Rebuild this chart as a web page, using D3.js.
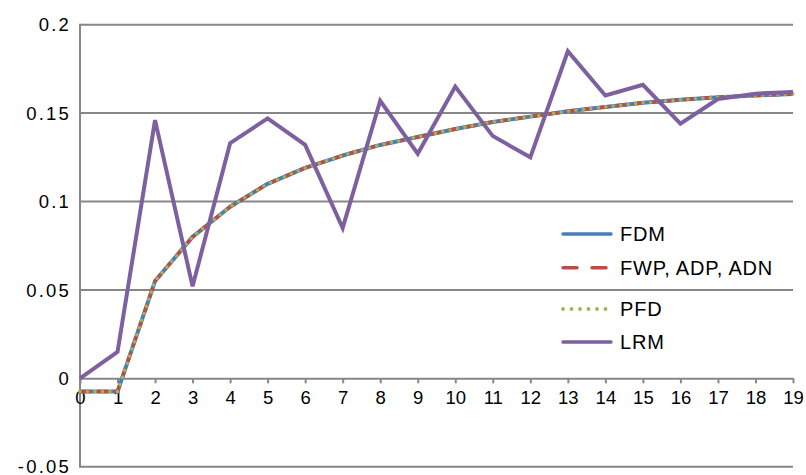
<!DOCTYPE html>
<html>
<head>
<meta charset="utf-8">
<script src="https://cdn.jsdelivr.net/npm/d3@7"></script>
<style>
  html, body { margin: 0; padding: 0; background: #fff; }
  svg { display: block; }
  text { font-family: "Liberation Sans", Arial, Helvetica, sans-serif; fill: #000; }
</style>
</head>
<body>
<svg id="chart" width="806" height="475"></svg>
<script>
// Time steps along the horizontal axis
const steps = d3.range(0, 20);

// Series values per time step
const fdm = [-0.0075, -0.0075, 0.055, 0.080, 0.097, 0.110, 0.119, 0.126, 0.132, 0.1365, 0.141, 0.145, 0.148, 0.151, 0.1535, 0.1558, 0.1575, 0.1590, 0.1600, 0.1608];
const fwp = [-0.0075, -0.0075, 0.055, 0.080, 0.097, 0.110, 0.119, 0.126, 0.132, 0.1365, 0.141, 0.145, 0.148, 0.151, 0.1535, 0.1558, 0.1575, 0.1590, 0.1600, 0.1608];
const pfd = [-0.0075, -0.0075, 0.055, 0.080, 0.097, 0.110, 0.119, 0.126, 0.132, 0.1365, 0.141, 0.145, 0.148, 0.151, 0.1535, 0.1558, 0.1575, 0.1590, 0.1600, 0.1608];
const lrm = [0, 0.015, 0.146, 0.052, 0.133, 0.147, 0.132, 0.085, 0.157, 0.127, 0.165, 0.137, 0.125, 0.185, 0.160, 0.166, 0.144, 0.158, 0.161, 0.162];

// Vertical axis ticks
const yTicks = [-0.05, 0, 0.05, 0.1, 0.15, 0.2];
const yTickLabels = ["-0.05", "0", "0.05", "0.1", "0.15", "0.2"];

// Legend labels
const seriesNames = ["FDM", "FWP, ADP, ADN", "PFD", "LRM"];

const colors = { fdm: "#4A7EBB", fwp: "#BE4B48", pfd: "#98B954", lrm: "#7D60A0" };
const gridColor = "#878787";

const svg = d3.select("#chart");

const x = d3.scaleLinear().domain([0, 19]).range([80, 793]);
const y = d3.scaleLinear().domain([-0.05, 0.2]).range([466.7, 24.7]);

// Horizontal gridlines
svg.append("g")
  .selectAll("line")
  .data(yTicks.filter(v => v !== 0))
  .join("line")
  .attr("x1", x(0)).attr("x2", x(19))
  .attr("y1", d => y(d)).attr("y2", d => y(d))
  .attr("stroke", gridColor).attr("stroke-width", 2);

// Vertical axis line
svg.append("line")
  .attr("x1", x(0)).attr("x2", x(0))
  .attr("y1", y(0.2) - 1).attr("y2", y(-0.05) + 1)
  .attr("stroke", gridColor).attr("stroke-width", 2);

// Vertical axis labels
svg.append("g")
  .selectAll("text")
  .data(yTicks)
  .join("text")
  .attr("x", 71)
  .attr("y", d => y(d))
  .attr("dy", "0.36em")
  .attr("text-anchor", "end")
  .attr("font-size", 18.5)
  .attr("letter-spacing", 2.2)
  .text((d, i) => yTickLabels[i]);

// Horizontal axis at zero with ticks and labels
const xAxis = d3.axisBottom(x)
  .tickValues(steps)
  .tickFormat(d3.format("d"))
  .tickSize(5)
  .tickSizeOuter(0)
  .tickPadding(8);

const xg = svg.append("g")
  .attr("transform", `translate(0,${y(0)})`)
  .call(xAxis);
xg.select(".domain").attr("stroke", gridColor).attr("stroke-width", 2);
xg.selectAll(".tick line").attr("stroke", gridColor).attr("stroke-width", 2);
xg.selectAll(".tick text")
  .attr("font-family", "'Liberation Sans', Arial, Helvetica, sans-serif")
  .attr("font-size", 18.5)
  .attr("fill", "#000");

const line = d3.line()
  .x((d, i) => x(steps[i]))
  .y(d => y(d));

// Series lines
svg.append("path").datum(fdm)
  .attr("d", line).attr("fill", "none")
  .attr("stroke", colors.fdm).attr("stroke-width", 4)
  .attr("stroke-linejoin", "round");

svg.append("path").datum(fwp)
  .attr("d", line).attr("fill", "none")
  .attr("stroke", colors.fwp).attr("stroke-width", 3.5)
  .attr("stroke-dasharray", "11,6");

svg.append("path").datum(pfd)
  .attr("d", line).attr("fill", "none")
  .attr("stroke", colors.pfd).attr("stroke-width", 3.6)
  .attr("stroke-linecap", "round")
  .attr("stroke-dasharray", "0,7.5");

svg.append("path").datum(lrm)
  .attr("d", line).attr("fill", "none")
  .attr("stroke", colors.lrm).attr("stroke-width", 4)
  .attr("stroke-linejoin", "miter");

// Legend
const legendRows = [
  { name: seriesNames[0], y: 234, stroke: colors.fdm, width: 3.5, dash: null },
  { name: seriesNames[1], y: 267.7, stroke: colors.fwp, width: 3.5, dash: "14,15" },
  { name: seriesNames[2], y: 309, stroke: colors.pfd, width: 3.8, dash: "0,8.5" },
  { name: seriesNames[3], y: 342, stroke: colors.lrm, width: 3.5, dash: null }
];

const lg = svg.append("g")
  .selectAll("g")
  .data(legendRows)
  .join("g");

lg.append("line")
  .attr("x1", 563).attr("x2", 611)
  .attr("y1", d => d.y).attr("y2", d => d.y)
  .attr("stroke", d => d.stroke)
  .attr("stroke-width", d => d.width)
  .attr("stroke-linecap", "round")
  .attr("stroke-dasharray", d => d.dash);

lg.append("text")
  .attr("x", 620)
  .attr("y", d => d.y)
  .attr("dy", "0.36em")
  .attr("font-size", 20)
  .attr("letter-spacing", 0.8)
  .text(d => d.name);
</script>
</body>
</html>
